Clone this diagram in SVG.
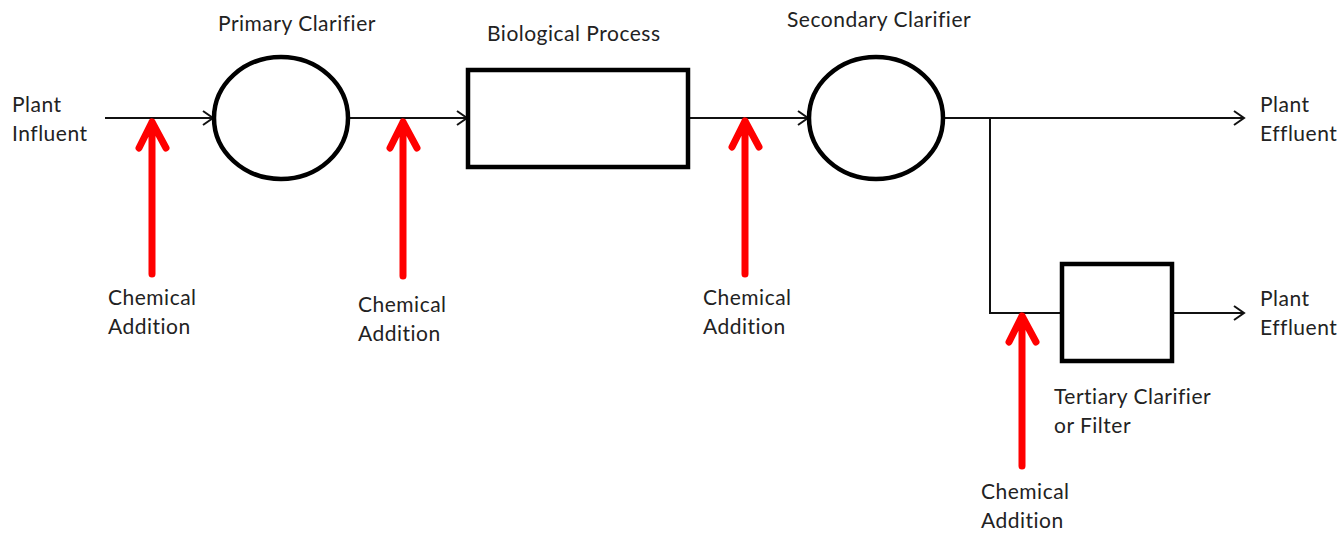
<svg xmlns="http://www.w3.org/2000/svg" width="1340" height="533" viewBox="0 0 1340 533">
<defs>
<marker id="open" markerWidth="14" markerHeight="16" refX="12" refY="8" orient="auto" markerUnits="userSpaceOnUse">
<path d="M2,1 L12,8 L2,15" fill="none" stroke="#111" stroke-width="2"/>
</marker>
</defs>
<style>
.t{font-family:Lato,"Open Sans",sans-serif;font-size:21px;letter-spacing:0.5px;fill:#222}
.flow{fill:none;stroke:#111;stroke-width:2}
.shape{fill:#fff;stroke:#000;stroke-width:4.5}
.chem{fill:none;stroke:#f00;stroke-width:7;stroke-linecap:round;stroke-linejoin:round}
</style>
<rect width="1340" height="533" fill="#fff"/>
<g id="connectors">
<line class="flow" x1="105" y1="118" x2="213" y2="118" marker-end="url(#open)"/>
<line class="flow" x1="349" y1="118" x2="467" y2="118" marker-end="url(#open)"/>
<line class="flow" x1="688" y1="118" x2="808" y2="118" marker-end="url(#open)"/>
<line class="flow" x1="944" y1="118" x2="1244" y2="118" marker-end="url(#open)"/>
<polyline class="flow" points="990,118 990,313 1062,313"/>
<line class="flow" x1="1172" y1="313" x2="1244" y2="313" marker-end="url(#open)"/>
</g>
<g id="primary-clarifier">
<ellipse class="shape" cx="281" cy="118" rx="67" ry="61"/>
<text class="t" x="218" y="31">Primary Clarifier</text>
</g>
<g id="biological-process">
<rect class="shape" x="468" y="70" width="220" height="97"/>
<text class="t" x="487" y="41">Biological Process</text>
</g>
<g id="secondary-clarifier">
<ellipse class="shape" cx="876" cy="118" rx="67" ry="61"/>
<text class="t" x="787" y="27">Secondary Clarifier</text>
</g>
<g id="tertiary-clarifier">
<rect class="shape" x="1062" y="264" width="110" height="97"/>
<text class="t" x="1054" y="404">Tertiary Clarifier</text>
<text class="t" x="1054" y="433">or Filter</text>
</g>
<g id="plant-influent">
<text class="t" x="12" y="112">Plant</text>
<text class="t" x="12" y="141">Influent</text>
</g>
<g id="plant-effluent-1">
<text class="t" x="1260" y="112">Plant</text>
<text class="t" x="1260" y="141">Effluent</text>
</g>
<g id="plant-effluent-2">
<text class="t" x="1260" y="306">Plant</text>
<text class="t" x="1260" y="335">Effluent</text>
</g>
<g id="chem-1">
<path class="chem" d="M152,274 L152,122 M139,148 L152,122 L166,148"/>
<text class="t" x="108" y="305">Chemical</text>
<text class="t" x="108" y="334">Addition</text>
</g>
<g id="chem-2">
<path class="chem" d="M403,276 L403,122 M390,148 L403,122 L417,148"/>
<text class="t" x="358" y="312">Chemical</text>
<text class="t" x="358" y="341">Addition</text>
</g>
<g id="chem-3">
<path class="chem" d="M745,274 L745,121 M732,147 L745,121 L759,147"/>
<text class="t" x="703" y="305">Chemical</text>
<text class="t" x="703" y="334">Addition</text>
</g>
<g id="chem-4">
<path class="chem" d="M1022,466 L1022,316 M1009,342 L1022,316 L1036,342"/>
<text class="t" x="981" y="499">Chemical</text>
<text class="t" x="981" y="528">Addition</text>
</g>
</svg>
